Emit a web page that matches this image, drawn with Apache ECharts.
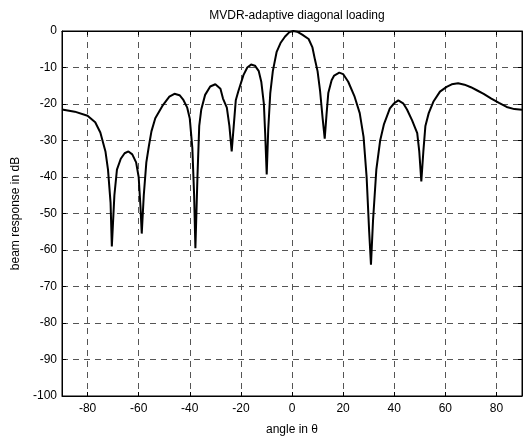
<!DOCTYPE html>
<html>
<head>
<meta charset="utf-8">
<title>MVDR-adaptive diagonal loading</title>
<script src="https://cdn.jsdelivr.net/npm/echarts@6/dist/echarts.min.js"></script>
<style>
  html, body { margin: 0; padding: 0; background: #fff; }
  #container { width: 524px; height: 436px; }
</style>
</head>
<body>
<div id="container"></div>
<script type="text/javascript">
// angle (deg) and beam response (dB)
var angles = [-90, -85, -80, -77, -75, -73, -72, -71, -70.5, -69.5, -68.5, -67, -65.5, -64, -62.5, -61, -60, -59.3, -58.8, -58,
  -57, -56, -55, -53.5, -50.5, -48, -46, -44, -42.5, -41, -40, -39, -38.3, -37.8, -37, -36.3, -35.5, -34, -32, -30,
  -28, -27, -25.5, -24.5, -23.6, -22.8, -22, -21, -19, -17.5, -16, -14.5, -13, -12, -11, -10.5, -9.9, -9.3, -8.5, -7.5,
  -6, -4.5, -2.7, -1, 0.5, 2, 4, 6.5, 8, 9, 10, 11, 12, 12.8, 13.5, 14.2, 15.5, 16.5, 18.5, 20,
  22, 24.5, 26.5, 28, 29.2, 30.2, 30.9, 31.7, 33, 34.5, 36, 38.3, 40, 41.6, 43.5, 45, 47, 49, 49.8, 50.6,
  51.4, 52.2, 53.5, 55.3, 57.9, 60.5, 62.5, 65, 67.5, 70, 72.5, 75, 78, 81, 84, 87, 90];
var response = [-21.5, -22.1, -23.2, -25.0, -27.8, -33, -38, -47, -59, -45, -38, -35, -33.5, -33, -33.8, -36, -40, -48, -55.5, -45,
  -36, -31.5, -27.5, -23.9, -20.3, -18, -17.2, -17.6, -18.9, -21, -24, -32, -45, -59.5, -40, -26, -21.5, -17.5, -15.2, -14.6,
  -15.8, -18.5, -21, -26, -33, -26, -19, -16.5, -12.1, -10, -9.2, -9.5, -11, -14, -20, -28, -39.3, -27, -17, -11,
  -5.7, -3.3, -1.5, -0.3, 0, -0.2, -1, -2.2, -4.5, -7.9, -11, -16.5, -24, -29.5, -23, -17, -13.5, -12.2, -11.4, -11.8,
  -13.9, -18, -22.5, -29, -40, -55, -64, -52, -38, -30, -25.5, -21.2, -19.8, -19, -19.8, -21.5, -24.5, -28, -33, -41.2,
  -33, -26, -22.5, -19.4, -16.6, -15.3, -14.6, -14.3, -14.7, -15.4, -16.3, -17.2, -18.5, -19.7, -20.8, -21.4, -21.6];
var xTicks = [-80, -60, -40, -20, 0, 20, 40, 60, 80];

var points = [];
angles.forEach(function (a, i) { points.push([a, response[i]]); });

var gridDash = { show: true, lineStyle: { type: [6, 5], color: '#555', width: 1 } };
var font = 'Liberation Sans, Arial, sans-serif';
var tick = { show: true, inside: true, length: 4, lineStyle: { color: '#000' } };

var myChart = echarts.init(document.getElementById('container'));
var option = {
  animation: false,
  title: {
    text: 'MVDR-adaptive diagonal loading',
    left: 292, top: 5, textAlign: 'center',
    textStyle: { fontFamily: font, fontSize: 12, fontWeight: 'normal', color: '#000' }
  },
  grid: {
    left: 62, right: 2, top: 31, bottom: 40, outerBoundsMode: 'none', containLabel: false,
    show: true, borderColor: '#000', borderWidth: 1
  },
  xAxis: [{
    type: 'value', min: -90, max: 90,
    name: 'angle in θ', nameLocation: 'middle', nameGap: 28,
    nameTextStyle: { fontFamily: font, fontSize: 12, color: '#000' },
    axisLine: { show: true, onZero: false, lineStyle: { color: '#000' } },
    axisTick: { show: true, inside: true, length: 4, lineStyle: { color: '#000' }, customValues: xTicks },
    axisLabel: { fontFamily: font, fontSize: 12, color: '#000', margin: 7, customValues: xTicks },
    splitLine: gridDash
  }, {
    type: 'value', min: -90, max: 90, position: 'top',
    axisLine: { show: true, onZero: false, lineStyle: { color: '#000' } },
    axisTick: { show: true, inside: true, length: 4, lineStyle: { color: '#000' }, customValues: xTicks },
    axisLabel: { show: false }, splitLine: { show: false }
  }],
  yAxis: [{
    type: 'value', min: -100, max: 0, interval: 10,
    name: 'beam response in dB', nameLocation: 'middle', nameGap: 38, nameRotate: 90,
    nameTextStyle: { fontFamily: font, fontSize: 12, color: '#000' },
    axisLine: { show: true, onZero: false, lineStyle: { color: '#000' } },
    axisTick: tick,
    axisLabel: { fontFamily: font, fontSize: 12, color: '#000', margin: 5 },
    splitLine: gridDash
  }, {
    type: 'value', min: -100, max: 0, interval: 10, position: 'right',
    axisLine: { show: true, onZero: false, lineStyle: { color: '#000' } },
    axisTick: tick,
    axisLabel: { show: false }, splitLine: { show: false }
  }],
  series: [{
    type: 'line',
    data: points,
    showSymbol: false,
    smooth: false,
    lineStyle: { color: '#000', width: 2 },
    z: 5
  }]
};
myChart.setOption(option);
</script>
</body>
</html>
